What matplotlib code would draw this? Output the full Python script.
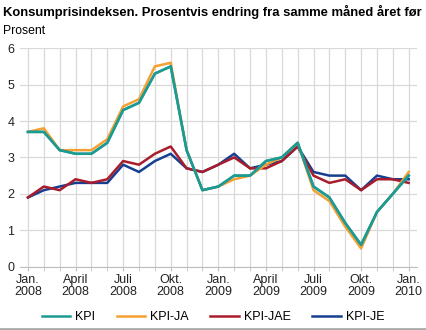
import numpy as np
import matplotlib
matplotlib.use("Agg")
import matplotlib.pyplot as plt
from matplotlib.lines import Line2D

# monthly values, Jan 2008 - Jan 2010
kpi = [3.7, 3.7, 3.2, 3.1, 3.1, 3.4, 4.3, 4.5, 5.3, 5.5, 3.2, 2.1,
       2.2, 2.5, 2.5, 2.9, 3.0, 3.4, 2.2, 1.9, 1.2, 0.6, 1.5, 2.0, 2.5]
kpi_ja = [3.7, 3.8, 3.2, 3.2, 3.2, 3.5, 4.4, 4.6, 5.5, 5.6, 3.2, 2.1,
          2.2, 2.4, 2.5, 2.8, 3.0, 3.4, 2.1, 1.8, 1.1, 0.5, 1.5, 2.0, 2.6]
kpi_jae = [1.9, 2.2, 2.1, 2.4, 2.3, 2.4, 2.9, 2.8, 3.1, 3.3, 2.7, 2.6,
           2.8, 3.0, 2.7, 2.7, 2.9, 3.3, 2.5, 2.3, 2.4, 2.1, 2.4, 2.4, 2.3]
kpi_je = [1.9, 2.1, 2.2, 2.3, 2.3, 2.3, 2.8, 2.6, 2.9, 3.1, 2.7, 2.6,
          2.8, 3.1, 2.7, 2.8, 2.9, 3.3, 2.6, 2.5, 2.5, 2.1, 2.5, 2.4, 2.4]
tick_labels = ["Jan.\n2008", "April\n2008", "Juli\n2008", "Okt.\n2008",
               "Jan.\n2009", "April\n2009", "Juli\n2009", "Okt.\n2009",
               "Jan.\n2010"]
names = ["KPI", "KPI-JA", "KPI-JAE", "KPI-JE"]
colors = ["#1c9a94", "#f5a032", "#a81c2c", "#173f8f"]

plt.rcParams['font.family'] = ['Liberation Sans', 'DejaVu Sans']

fig = plt.figure(figsize=(4.26, 3.30), dpi=100)
ax = fig.add_axes([0.047, 0.192, 0.931, 0.662])

x = np.arange(len(kpi))
for series, c in zip([kpi, kpi_ja, kpi_jae, kpi_je][::-1], colors[::-1]):
    ax.plot(x, series, color=c, lw=1.8, zorder=3)
# KPI drawn over KPI-JA as in the original
ax.plot(x, kpi, color=colors[0], lw=1.8, zorder=4)

ax.set_xlim(-0.5, 24.5)
ax.set_ylim(0, 6)
ax.set_yticks(range(7))
ax.set_xticks(x, minor=True)
ax.set_xticks(np.arange(0, 25, 3))
ax.set_xticklabels(tick_labels, linespacing=1.1)
ax.grid(True, which='both', axis='x', color='#d9d9d9', lw=0.9)
ax.grid(True, which='major', axis='y', color='#d9d9d9', lw=0.9)
ax.set_axisbelow(True)
for s in ['top', 'right', 'left']:
    ax.spines[s].set_visible(False)
ax.spines['bottom'].set_color('#bfbfbf')
ax.tick_params(axis='y', length=0, labelsize=9, colors='#222222', pad=4)
ax.tick_params(axis='x', which='both', length=3, color='#bfbfbf',
               labelsize=9, colors='#222222', pad=2)

fig.text(0.006, 0.965, "Konsumprisindeksen. Prosentvis endring fra samme måned året før",
         fontsize=9.4, fontweight='bold', va='center')
fig.text(0.006, 0.905, "Prosent", fontsize=8.8, va='center')

handles = [Line2D([0], [0], color=c, lw=1.8) for c in colors]
fig.legend(handles, names, loc='center', bbox_to_anchor=(0.5, 0.038), ncol=4,
           frameon=False, fontsize=9, handlelength=2.3, columnspacing=1.7,
           handletextpad=0.4)

fig.add_artist(Line2D([0, 1], [0.004, 0.004], color='#aaaaaa', lw=2,
                      transform=fig.transFigure))

fig.savefig("out.png", dpi=100)
